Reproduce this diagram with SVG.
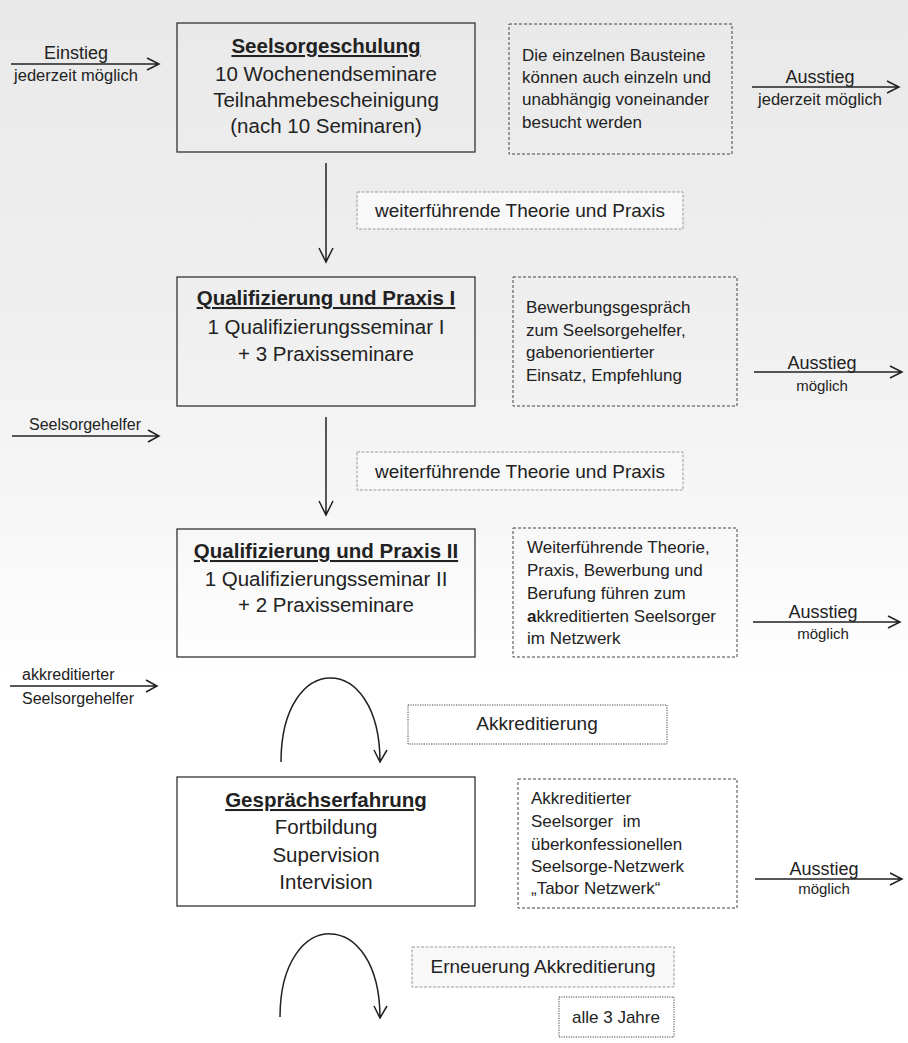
<svg xmlns="http://www.w3.org/2000/svg" width="908" height="1043" viewBox="0 0 908 1043">
<defs>
<linearGradient id="bg" x1="0" y1="0" x2="0" y2="1">
<stop offset="0" stop-color="#e9e9e9"/>
<stop offset="0.3" stop-color="#efefef"/>
<stop offset="0.5" stop-color="#f7f7f7"/>
<stop offset="0.65" stop-color="#ffffff"/>
<stop offset="1" stop-color="#ffffff"/>
</linearGradient>
</defs>
<style>
text{font-family:"Liberation Sans",Arial,sans-serif;fill:#222}
.main{fill:none;stroke:#333;stroke-width:1.3}
.dash{fill:none;stroke:#444;stroke-width:1;stroke-dasharray:3 2}
.lab{fill:#f8f8f8;stroke:#9a9a9a;stroke-width:1;stroke-dasharray:3 1.5}
.dot{fill:none;stroke:#444;stroke-width:1;stroke-dasharray:1.2 1.2}
.t{font-size:20.5px;font-weight:bold;text-decoration:underline;text-anchor:middle}
.b{font-size:20.5px;text-anchor:middle}
.n{font-size:17px}
.c{text-anchor:middle}
.ln{fill:none;stroke:#222;stroke-width:1.5}
</style>
<rect width="908" height="1043" fill="url(#bg)"/>

<g id="connectors">
<path class="ln" d="M11,64H159M147,58L159,64L147,70"/>
<path class="ln" d="M752,87H899M887,81L899,87L887,93"/>
<path class="ln" d="M326,163V262M319,248L326,262L333,248"/>
<path class="ln" d="M12,436H159M148,430L159,436L148,442"/>
<path class="ln" d="M754,372H902M890,366L902,372L890,378"/>
<path class="ln" d="M326,417V515M319,501L326,515L333,501"/>
<path class="ln" d="M10,686H157M146,680L157,686L146,692"/>
<path class="ln" d="M753,622H900M888,616L900,622L888,628"/>
<path class="ln" d="M281,762C281,650 380,650 380,762M374,750L380,762L387,750"/>
<path class="ln" d="M755,879H902M890,873L902,879L890,885"/>
<path class="ln" d="M280,1017C280,906 380,906 380,1018M374,1006L380,1018L387,1006"/>
</g>

<g id="einstieg">
<text class="c" x="76" y="59" font-size="18">Einstieg</text>
<text class="c" x="76" y="81" font-size="16.5">jederzeit möglich</text>
</g>
<g id="ausstieg1">
<text class="c" x="820" y="83" font-size="18">Ausstieg</text>
<text class="c" x="820" y="105" font-size="16.5">jederzeit möglich</text>
</g>

<g id="seelsorgeschulung">
<rect class="main" x="177" y="23" width="298" height="129"/>
<text class="t" x="326" y="53">Seelsorgeschulung</text>
<text class="b" x="326" y="81">10 Wochenendseminare</text>
<text class="b" x="326" y="107">Teilnahmebescheinigung</text>
<text class="b" x="326" y="133">(nach 10 Seminaren)</text>
</g>
<g id="note1">
<rect class="dash" x="509" y="24" width="223" height="130"/>
<text class="n" x="522" y="61">Die einzelnen Bausteine</text>
<text class="n" x="522" y="83">können auch einzeln und</text>
<text class="n" x="522" y="105">unabhängig voneinander</text>
<text class="n" x="522" y="128">besucht werden</text>
</g>
<g id="label1">
<rect class="lab" x="357" y="192" width="326" height="37"/>
<text class="c" x="520" y="217" font-size="19">weiterführende Theorie und Praxis</text>
</g>

<g id="qp1">
<rect class="main" x="177" y="277" width="298" height="129"/>
<text class="t" x="326" y="305">Qualifizierung und Praxis I</text>
<text class="b" x="326" y="334">1 Qualifizierungsseminar I</text>
<text class="b" x="326" y="361">+ 3 Praxisseminare</text>
</g>
<g id="note2">
<rect class="dash" x="513" y="277" width="224" height="129"/>
<text class="n" x="526" y="313">Bewerbungsgespräch</text>
<text class="n" x="526" y="336">zum Seelsorgehelfer,</text>
<text class="n" x="526" y="358">gabenorientierter</text>
<text class="n" x="526" y="381">Einsatz, Empfehlung</text>
</g>
<g id="ausstieg2">
<text class="c" x="822" y="369" font-size="18">Ausstieg</text>
<text class="c" x="822" y="391" font-size="15">möglich</text>
</g>
<g id="seelsorgehelfer">
<text class="c" x="85" y="430" font-size="16">Seelsorgehelfer</text>
</g>
<g id="label2">
<rect class="lab" x="357" y="452" width="326" height="38"/>
<text class="c" x="520" y="478" font-size="19">weiterführende Theorie und Praxis</text>
</g>

<g id="qp2">
<rect class="main" x="177" y="529" width="298" height="128"/>
<text class="t" x="326" y="558">Qualifizierung und Praxis II</text>
<text class="b" x="326" y="586">1 Qualifizierungsseminar II</text>
<text class="b" x="326" y="612">+ 2 Praxisseminare</text>
</g>
<g id="note3">
<rect class="dash" x="513" y="528" width="224" height="129"/>
<text class="n" x="527" y="553">Weiterführende Theorie,</text>
<text class="n" x="527" y="576">Praxis, Bewerbung und</text>
<text class="n" x="527" y="599">Berufung führen zum</text>
<text class="n" x="527" y="622"><tspan font-weight="bold">a</tspan>kkreditierten Seelsorger</text>
<text class="n" x="527" y="644">im Netzwerk</text>
</g>
<g id="ausstieg3">
<text class="c" x="823" y="618" font-size="18">Ausstieg</text>
<text class="c" x="823" y="639" font-size="15">möglich</text>
</g>
<g id="akkhelfer">
<text x="22" y="680" font-size="16">akkreditierter</text>
<text x="22" y="704" font-size="16">Seelsorgehelfer</text>
</g>
<g id="akkreditierung">
<rect class="dot" x="408" y="705" width="259" height="39"/>
<text class="c" x="537" y="730" font-size="19">Akkreditierung</text>
</g>

<g id="gespraech">
<rect class="main" x="177" y="777" width="298" height="129"/>
<text class="t" x="326" y="807">Gesprächserfahrung</text>
<text class="b" x="326" y="834">Fortbildung</text>
<text class="b" x="326" y="862">Supervision</text>
<text class="b" x="326" y="889">Intervision</text>
</g>
<g id="note4">
<rect class="dash" x="518" y="779" width="219" height="129"/>
<text class="n" x="531" y="804">Akkreditierter</text>
<text class="n" x="531" y="827" xml:space="preserve">Seelsorger  im</text>
<text class="n" x="531" y="850">überkonfessionellen</text>
<text class="n" x="531" y="872">Seelsorge-Netzwerk</text>
<text class="n" x="531" y="894">„Tabor Netzwerk“</text>
</g>
<g id="ausstieg4">
<text class="c" x="824" y="875" font-size="18">Ausstieg</text>
<text class="c" x="824" y="894" font-size="15">möglich</text>
</g>
<g id="erneuerung">
<rect class="lab" x="412" y="947" width="262" height="40"/>
<text class="c" x="543" y="973" font-size="19">Erneuerung Akkreditierung</text>
</g>
<g id="alle3">
<rect class="dot" x="559" y="997" width="115" height="40"/>
<text class="c" x="616" y="1023" font-size="17">alle 3 Jahre</text>
</g>
</svg>
